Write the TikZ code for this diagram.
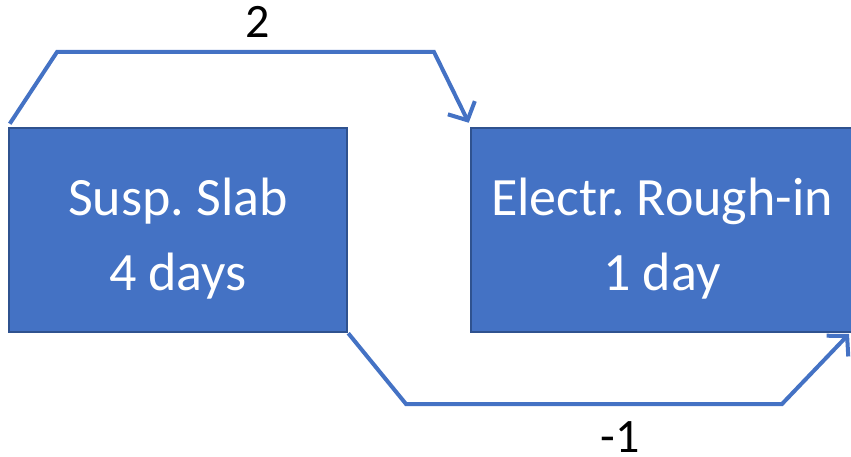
\documentclass[tikz,border=0pt]{standalone}
\usepackage{fontspec}
\setmainfont{Carlito}
\usetikzlibrary{arrows.meta,calc}
\frenchspacing
\definecolor{boxfill}{HTML}{4472C4}
\definecolor{boxedge}{HTML}{2F528F}
\definecolor{linkcol}{HTML}{4472C4}
\tikzset{
  task/.style={draw=boxedge, line width=2.5pt, fill=boxfill,
    inner sep=0pt, minimum height=204pt},
  tasktext/.style={text=white, align=center, anchor=base, inner sep=0pt,
    font=\fontsize{54}{75}\selectfont},
  link/.style={draw=linkcol, line width=4pt, line join=miter,
    -{Straight Barb[length=14pt,width=30pt,line width=4pt]}},
  lag/.style={font=\fontsize{48}{56}\selectfont, anchor=base, inner sep=0pt}
}
\begin{document}
\begin{tikzpicture}[x=1pt,y=-1pt]
  \useasboundingbox (0,0) rectangle (851,457);
  \begin{scope}
    \clip (0,0) rectangle (851,457);
    % activity boxes
    \node[task, minimum width=338pt] (slab) at (178,230) {};
    \node[task, minimum width=384pt] (elec) at (663,230) {};
  \end{scope}
  \node[tasktext] (slabtxt) at (178,290) {Susp. Slab\\4 days};
  \node[tasktext] (electxt) at (662,290) {Electr. Rough-in\\1 day};
  % start-to-start link with lag 2
  \coordinate (s1) at ($(slab.north west)+(2,-3)$);
  \coordinate (s2) at (57,52);
  \coordinate (s3) at (434,52);
  \coordinate (s4) at ($(elec.north west)+(-1,-4)$);
  \draw[link] (s1) -- (s2) -- (s3) -- (s4);
  % finish-to-finish link with lag -1
  \coordinate (f1) at (slab.south east);
  \coordinate (f2) at (406,404);
  \coordinate (f3) at (782,404);
  \coordinate (f4) at (849,334);
  \draw[link] (f1) -- (f2) -- (f3) -- (f4);
  \node[lag] (lagss) at (258,38) {2};
  \node[lag] (lagff) at (620,452) {-1};
\end{tikzpicture}
\end{document}
